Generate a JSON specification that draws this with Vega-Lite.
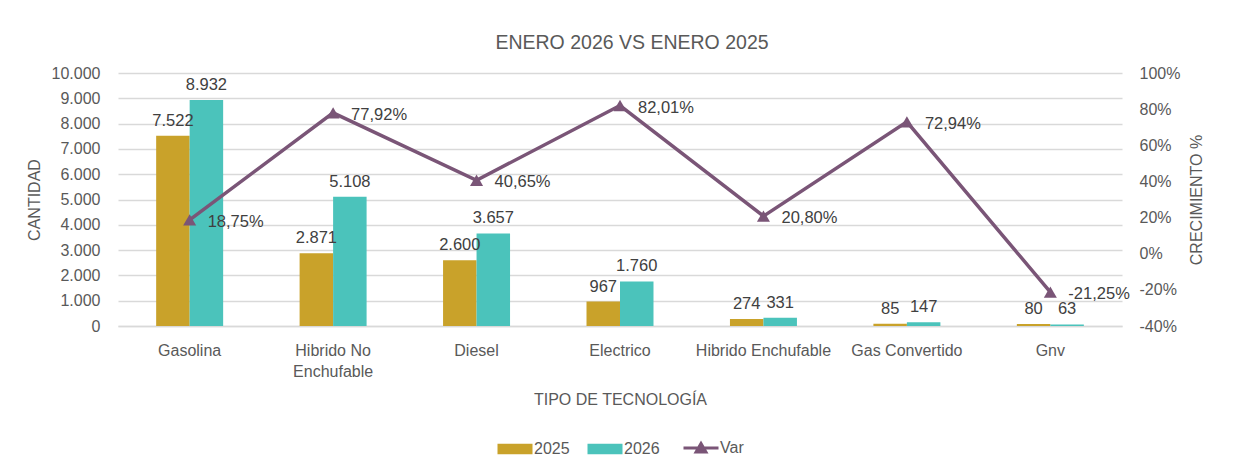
{
  "$schema": "https://vega.github.io/schema/vega-lite/v6.json",
  "width": 1004,
  "height": 253,
  "autosize": "none",
  "padding": {"left": 118, "top": 73, "right": 121, "bottom": 146},
  "background": "white",
  "title": {"text": "ENERO 2026 VS ENERO 2025", "offset": 12, "dx": 12},
  "datasets": {
    "barras": [
      {"tipo": "Gasolina", "anio": "2025", "cantidad": 7522},
      {"tipo": "Gasolina", "anio": "2026", "cantidad": 8932},
      {"tipo": "Hibrido No Enchufable", "anio": "2025", "cantidad": 2871},
      {"tipo": "Hibrido No Enchufable", "anio": "2026", "cantidad": 5108},
      {"tipo": "Diesel", "anio": "2025", "cantidad": 2600},
      {"tipo": "Diesel", "anio": "2026", "cantidad": 3657},
      {"tipo": "Electrico", "anio": "2025", "cantidad": 967},
      {"tipo": "Electrico", "anio": "2026", "cantidad": 1760},
      {"tipo": "Hibrido Enchufable", "anio": "2025", "cantidad": 274},
      {"tipo": "Hibrido Enchufable", "anio": "2026", "cantidad": 331},
      {"tipo": "Gas Convertido", "anio": "2025", "cantidad": 85},
      {"tipo": "Gas Convertido", "anio": "2026", "cantidad": 147},
      {"tipo": "Gnv", "anio": "2025", "cantidad": 80},
      {"tipo": "Gnv", "anio": "2026", "cantidad": 63}
    ],
    "variacion": [
      {"tipo": "Gasolina", "var": 0.1875},
      {"tipo": "Hibrido No Enchufable", "var": 0.7792},
      {"tipo": "Diesel", "var": 0.4065},
      {"tipo": "Electrico", "var": 0.8201},
      {"tipo": "Hibrido Enchufable", "var": 0.2080},
      {"tipo": "Gas Convertido", "var": 0.7294},
      {"tipo": "Gnv", "var": -0.2125}
    ]
  },
  "encoding": {
    "x": {
      "field": "tipo",
      "type": "nominal",
      "scale": {
        "domain": ["Gasolina", "Hibrido No Enchufable", "Diesel", "Electrico", "Hibrido Enchufable", "Gas Convertido", "Gnv"],
        "paddingInner": 0.533,
        "paddingOuter": 0.266
      },
      "axis": {
        "title": "TIPO DE TECNOLOGÍA",
        "labelAngle": 0,
        "labelPadding": 16,
        "titlePadding": 12,
        "labelExpr": "datum.value == 'Hibrido No Enchufable' ? ['Hibrido No', 'Enchufable'] : datum.value",
        "labelLineHeight": 21
      }
    }
  },
  "layer": [
    {
      "data": {"name": "barras"},
      "encoding": {
        "xOffset": {"field": "anio", "type": "nominal", "scale": {"paddingInner": 0, "paddingOuter": 0}},
        "y": {
          "field": "cantidad",
          "type": "quantitative",
          "scale": {"domain": [0, 10000], "nice": false},
          "axis": {
            "title": "CANTIDAD",
            "values": [0, 1000, 2000, 3000, 4000, 5000, 6000, 7000, 8000, 9000, 10000],
            "format": ",.0f",
            "grid": true,
            "labelPadding": 18,
            "titlePadding": 9
          }
        }
      },
      "layer": [
        {
          "mark": {"type": "bar"},
          "encoding": {
            "color": {
              "field": "anio",
              "type": "nominal",
              "scale": {"domain": ["2025", "2026", "Var"], "range": ["#C9A22A", "#4BC3BB", "#7A5577"]},
              "legend": {
                "title": null,
                "orient": "none",
                "legendX": 389,
                "legendY": 367,
                "direction": "horizontal",
                "labelFontSize": 16,
                "labelColor": "#595959",
                "labelOffset": 11,
                "columnPadding": 17,
                "symbolSize": 1225,
                "encode": {
                  "symbols": {
                    "update": {
                      "shape": {"signal": "datum.value === 'Var' ? 'M-1,0L1,0M-0.28,0.22L0,-0.26L0.28,0.22Z' : 'M-1,-0.3L1,-0.3L1,0.3L-1,0.3Z'"},
                      "fill": {"scale": "color", "field": "value"},
                      "stroke": {"scale": "color", "field": "value"},
                      "strokeWidth": {"signal": "datum.value === 'Var' ? 3 : 0"},
                      "opacity": {"value": 1},
                      "fillOpacity": {"value": 1}
                    }
                  }
                }
              }
            }
          }
        },
        {
          "mark": {"type": "text", "baseline": "alphabetic", "dy": -10, "fontSize": 16.5, "color": "#404040"},
          "encoding": {
            "text": {"field": "cantidad", "type": "quantitative", "format": ",.0f"}
          }
        }
      ]
    },
    {
      "data": {"name": "variacion"},
      "encoding": {
        "y": {
          "field": "var",
          "type": "quantitative",
          "scale": {"domain": [-0.4, 1], "nice": false},
          "axis": {
            "orient": "right",
            "title": "CRECIMIENTO %",
            "titleAngle": -90,
            "values": [-0.4, -0.2, 0, 0.2, 0.4, 0.6, 0.8, 1],
            "format": ".0%",
            "grid": false,
            "labelPadding": 17,
            "titlePadding": 25
          }
        }
      },
      "layer": [
        {
          "mark": {
            "type": "line",
            "strokeWidth": 3.5,
            "point": {"shape": "triangle-up", "size": 170, "filled": true, "color": "#7A5577"}
          },
          "encoding": {
            "color": {"datum": "Var"}
          }
        },
        {
          "mark": {"type": "text", "align": "left", "baseline": "middle", "dx": 18, "dy": 2, "fontSize": 16.5, "color": "#404040"},
          "encoding": {
            "text": {"field": "var", "type": "quantitative", "format": ".2%"}
          }
        }
      ]
    }
  ],
  "resolve": {"scale": {"y": "independent"}},
  "config": {
    "font": "Liberation Sans",
    "locale": {"number": {"decimal": ",", "thousands": ".", "grouping": [3], "currency": ["$", ""], "minus": "-"}},
    "view": {"stroke": null},
    "axis": {
      "labelFont": "Liberation Sans",
      "titleFont": "Liberation Sans",
      "labelFontSize": 16,
      "titleFontSize": 16,
      "titleFontWeight": "normal",
      "labelColor": "#595959",
      "titleColor": "#595959",
      "ticks": false,
      "domain": false,
      "gridColor": "#D9D9D9",
      "gridWidth": 1.5
    },
    "axisX": {"domain": true, "domainColor": "#D9D9D9", "domainWidth": 1.5, "grid": false},
    "text": {"font": "Liberation Sans"},
    "title": {"font": "Liberation Sans", "fontSize": 19.5, "fontWeight": "normal", "color": "#595959"},
    "legend": {"labelFont": "Liberation Sans", "labelFontSize": 16}
  }
}
